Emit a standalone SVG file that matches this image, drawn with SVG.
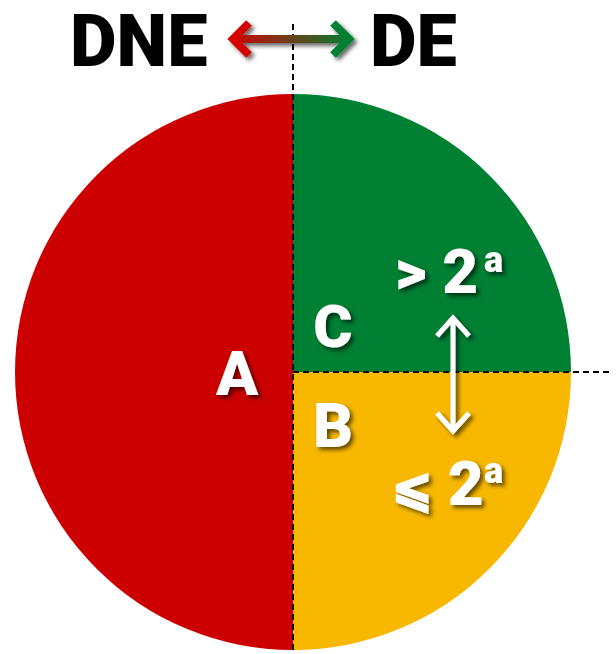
<svg xmlns="http://www.w3.org/2000/svg" width="616" height="654" viewBox="0 0 616 654">
<defs>
<style>
.t{font-family:Roboto,"Liberation Sans",sans-serif;font-weight:900;fill:#fff;filter:url(#sh)}
.h{font-family:Roboto,"Liberation Sans",sans-serif;font-weight:900;fill:#000}
.dash{stroke:#000;stroke-width:2;stroke-dasharray:6,4;fill:none}
.wa{stroke:#fff;stroke-width:5;fill:none;filter:url(#sh)}
</style>
<filter id="sh" x="-30%" y="-30%" width="160%" height="160%">
<feDropShadow dx="3" dy="3" stdDeviation="2" flood-color="#000" flood-opacity="0.6"/>
</filter>
<linearGradient id="g" x1="228" y1="0" x2="353" y2="0" gradientUnits="userSpaceOnUse">
<stop offset="0" stop-color="#d40000"/>
<stop offset="1" stop-color="#008033"/>
</linearGradient>
</defs>
<g id="pie">
<path id="A-region" d="M293,94 A278,278 0 0,0 293,650 Z" fill="#cc0000"/>
<path id="C-region" d="M293,372 L293,94 A278,278 0 0,1 571,372 Z" fill="#008033"/>
<path id="B-region" d="M293,372 L571,372 A278,278 0 0,1 293,650 Z" fill="#f8b800"/>
</g>
<g id="connectors">
<line class="dash" x1="293" y1="24" x2="293" y2="654"/>
<line class="dash" x1="293" y1="372" x2="610" y2="372"/>
<g id="top-arrow" filter="url(#sh)" fill="none" stroke="url(#g)" stroke-width="8">
<line x1="232" y1="39" x2="349" y2="39"/>
<polyline points="249,23 233,39 249,55" stroke="#d40000"/>
<polyline points="333,23 349,39 333,55" stroke="#008033"/>
</g>
<g id="vert-arrow" class="wa">
<line x1="453" y1="318" x2="453" y2="429"/>
<polyline points="437,336 453,318 469,336"/>
<polyline points="437,413 453,431 469,413"/>
</g>
</g>
<g id="DNE"><text class="h" x="70" y="66" font-size="72">DNE</text></g>
<g id="DE"><text class="h" x="370" y="66" font-size="72">DE</text></g>
<g id="A"><text class="t" x="237" y="395" font-size="62" text-anchor="middle">A</text></g>
<g id="C"><text class="t" x="333" y="347" font-size="60" text-anchor="middle">C</text></g>
<g id="B"><text class="t" x="333" y="447" font-size="62" text-anchor="middle">B</text></g>
<g id="gt"><text class="t" x="395" y="293" font-size="62">&gt; 2</text><text class="t" x="484" y="272" font-size="36">a</text></g>
<g id="le"><text class="t" x="392" y="505" font-size="62"><tspan font-family="'DejaVu Sans',sans-serif" font-size="48" stroke="#fff" stroke-width="2.5">⩽</tspan> 2</text><text class="t" x="484" y="483" font-size="36">a</text></g>
</svg>
